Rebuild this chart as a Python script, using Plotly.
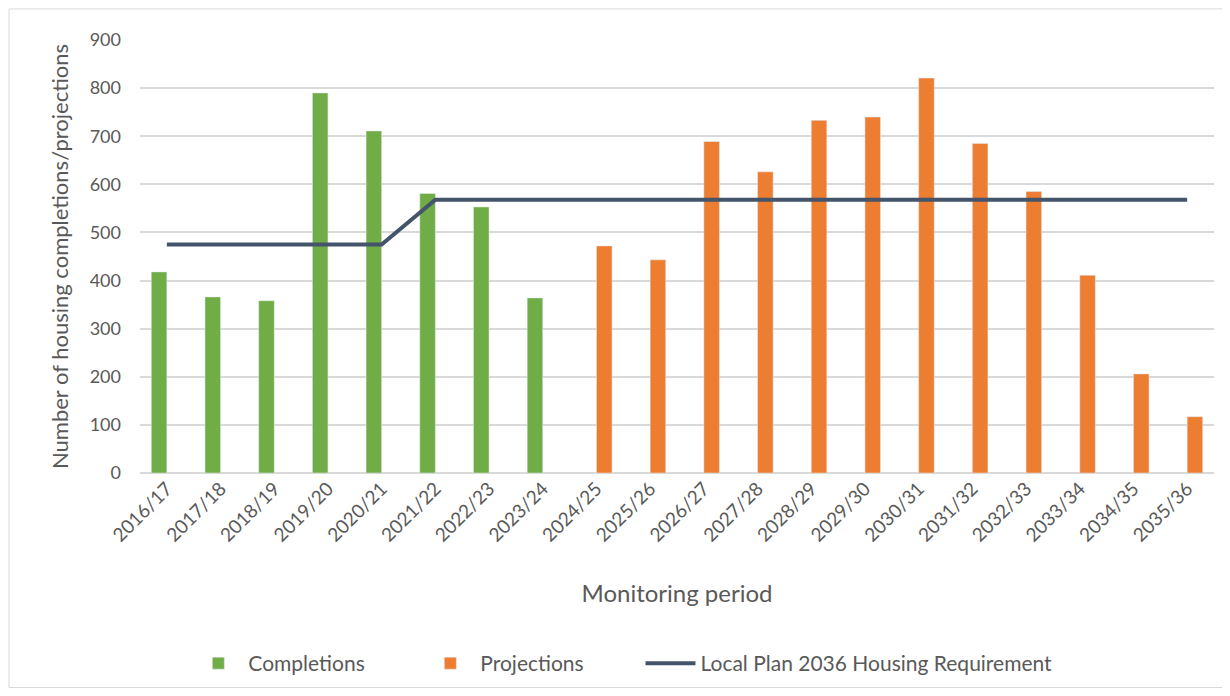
import plotly.graph_objects as go

periods = ['2016/17', '2017/18', '2018/19', '2019/20', '2020/21', '2021/22', '2022/23',
           '2023/24', '2024/25', '2025/26', '2026/27', '2027/28', '2028/29', '2029/30',
           '2030/31', '2031/32', '2032/33', '2033/34', '2034/35', '2035/36']
completions = [418, 366, 358, 790, 711, 581, 553, 364] + [None] * 12
projections = [None] * 8 + [472, 443, 689, 626, 733, 740, 821, 685, 585, 411, 206, 117]
requirement = [475, 475, 475, 475, 475] + [568] * 15

font_family = 'Lato, "Open Sans", sans-serif'
grey = '#595959'

fig = go.Figure()

fig.add_trace(go.Bar(x=periods, y=completions, name='Completions',
                     marker=dict(color='#70AD47'), legend='legend', showlegend=True))
fig.add_trace(go.Bar(x=periods, y=projections, name='Projections',
                     marker=dict(color='#ED7D31'), legend='legend2', showlegend=True))
fig.add_trace(go.Scatter(x=periods, y=requirement, mode='lines',
                         name='Local Plan 2036 Housing Requirement',
                         line=dict(color='#44546A', width=4), legend='legend3',
                         showlegend=True))

# one legend per entry so the items can be spread like the original
legend_style = dict(orientation='h', xanchor='left', y=-0.44, yanchor='middle',
                    font=dict(size=21, color=grey), itemwidth=50)

# page body has an 8px margin, so the figure is sized to sit inside the window
fig.update_layout(
    width=1222, height=688,
    margin=dict(l=132, r=16, t=32, b=216),
    paper_bgcolor='white', plot_bgcolor='white',
    showlegend=True,
    barmode='group', bargap=0.42, bargroupgap=0,
    font=dict(family=font_family, color=grey, size=17),
    legend=dict(x=0.045, **legend_style),
    legend2=dict(x=0.261, **legend_style),
    legend3=dict(x=0.466, **legend_style),
    xaxis=dict(
        title=dict(text='Monitoring period', font=dict(size=24, color=grey), standoff=40),
        tickangle=-45, tickfont=dict(size=19, color=grey),
        showgrid=False, showline=False, ticks='',
    ),
    yaxis=dict(
        title=dict(text='Number of housing completions/projections',
                   font=dict(size=22, color=grey), standoff=14),
        range=[0, 900], dtick=100, tickfont=dict(size=18, color=grey),
        ticklabelstandoff=18,
        gridcolor='#D9D9D9', gridwidth=1.5, zeroline=True, zerolinecolor='#D9D9D9',
        zerolinewidth=1.5, showline=False, ticks='',
    ),
    shapes=[dict(type='rect', xref='paper', yref='paper',
                 x0=-131 / 1074, x1=1 + 13 / 1074, y0=-214 / 432, y1=1 + 31 / 432,
                 line=dict(color='#D9D9D9', width=1), fillcolor='rgba(0,0,0,0)',
                 layer='below')],
)

fig.write_html("out.html")
